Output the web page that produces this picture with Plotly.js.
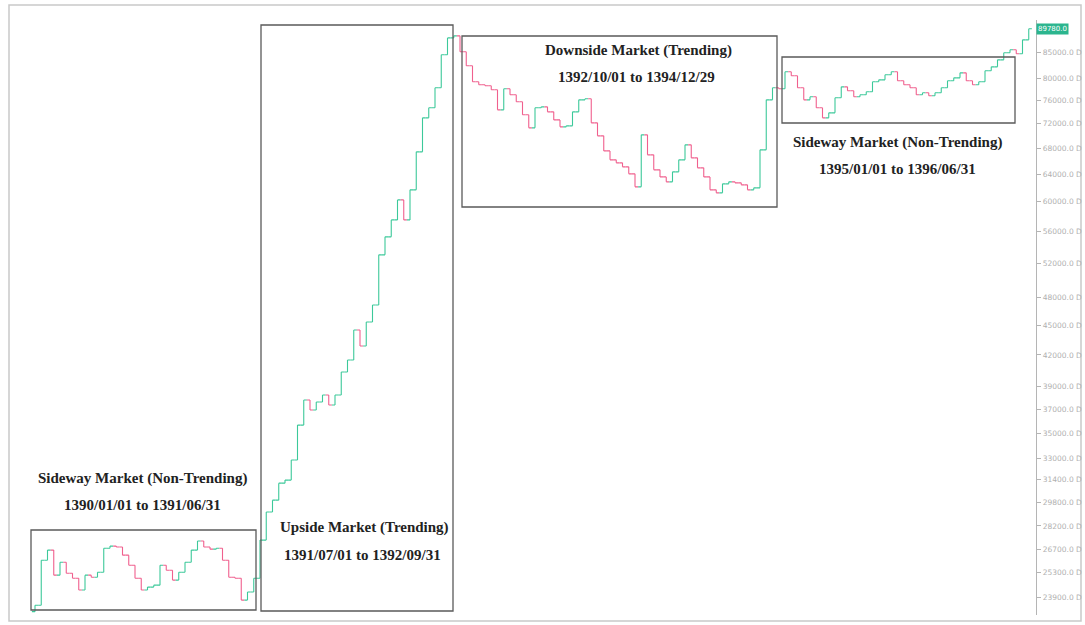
<!DOCTYPE html>
<html>
<head>
<meta charset="utf-8">
<script src="https://cdn.plot.ly/plotly-3.0.1.min.js"></script>
<style>
  html, body { margin: 0; padding: 0; background: #ffffff; }
  #chart { width: 1085px; height: 625px; }
</style>
</head>
<body>
<div id="chart"></div>
<script>
// ---- data (index values, half-month steps) ----
const firstOpen = 23100;
const closes = [
  23450, 26040, 26660, 25150, 25920, 25260, 24970, 24290, 25150, 25030,
  25320, 26780, 26910, 26850, 26350, 25740, 24970, 24290, 24460, 24570,
  25740, 25440, 24860, 25320, 25920, 26660, 27230, 26850, 26720, 26780,
  26040, 25030, 24970, 23730, 24180, 24970, 27290, 29130, 29950, 31160,
  31380, 32880, 35670, 37820, 36950, 37640, 38260, 37380, 38260, 40370,
  41510, 44520, 42890, 45360, 47190, 53030, 55300, 57530, 60270, 57530,
  61700, 67410, 72960, 74690, 78250, 84510, 87900, 88320, 85100, 82370,
  79360, 78800, 78620, 77890, 74340, 78070, 76990, 75740, 73480, 71280,
  74690, 74860, 73990, 72620, 71450, 71620, 73990, 76090, 76270, 72120,
  69970, 67560, 66160, 65700, 65090, 64040, 62130, 70130, 66940, 64640,
  63590, 62860, 64340, 66160, 68520, 66470, 64940, 63590, 61700, 61270,
  62570, 62860, 62710, 62420, 61700, 61990, 67720, 76090, 78250, 78070,
  81220, 80470, 78250, 76090, 76630, 74690, 72960, 73820, 76450, 78430,
  77710, 76630, 76990, 77530, 79360, 79720, 80660, 81220, 79540, 78800,
  78250, 76990, 77350, 76810, 77350, 78250, 79540, 80090, 81030, 79540,
  78800, 79360, 81410, 82170, 83520, 84900, 85500, 84710, 87500, 89780
];
const tickValues = [85000, 80000, 76000, 72000, 68000, 64000, 60000, 56000, 52000, 48000,
  45000, 42000, 39000, 37000, 35000, 33000, 31400, 29800, 28200, 26700, 25300, 23900];
const tickLabels = ["85000.0 D", "80000.0 D", "76000.0 D", "72000.0 D", "68000.0 D", "64000.0 D",
  "60000.0 D", "56000.0 D", "52000.0 D", "48000.0 D", "45000.0 D", "42000.0 D", "39000.0 D",
  "37000.0 D", "35000.0 D", "33000.0 D", "31400.0 D", "29800.0 D", "28200.0 D", "26700.0 D",
  "25300.0 D", "23900.0 D"];
const phaseTitles = ["Sideway Market (Non-Trending)", "Upside Market (Trending)",
  "Downside Market (Trending)", "Sideway Market (Non-Trending)"];
const phaseDates = ["1390/01/01 to 1391/06/31", "1391/07/01 to 1392/09/31",
  "1392/10/01 to 1394/12/29", "1395/01/01 to 1396/06/31"];

// ---- build OHLC table from the closes ----
const xs = closes.map((_, i) => i);
const opens = [firstOpen].concat(closes.slice(0, -1));
const highs = closes.map((c, i) => Math.max(c, opens[i]));
const lows = closes.map((c, i) => Math.min(c, opens[i]));

// ---- layout helpers (pixel -> paper) ----
const W = 1085, H = 625;
const M = { l: 12, r: 49, t: 20, b: 10 };
const PW = W - M.l - M.r, PH = H - M.t - M.b;
const px = x => (x - M.l) / PW;
const py = y => (H - M.b - y) / PH;

const boxes = [
  [31, 530, 256, 610],
  [261, 25, 453, 611],
  [462, 36, 777, 207],
  [782, 57, 1015, 123]
];
const titlePos = [[142, 478], [364, 527], [638, 50], [897, 142]];
const datePos = [[142, 505], [362, 555], [636, 77], [897, 169]];

const shapes = boxes.map(b => ({
  type: 'rect', xref: 'paper', yref: 'paper',
  x0: px(b[0]), x1: px(b[2]), y0: py(b[3]), y1: py(b[1]),
  line: { color: '#5a5a5a', width: 1.3 }, layer: 'above'
}));
// outer frame of the picture
shapes.push({
  type: 'rect', xref: 'paper', yref: 'paper',
  x0: px(9), x1: px(1081), y0: py(621), y1: py(5),
  line: { color: '#c9c9c9', width: 1.5 }, layer: 'below'
});

const annFont = { family: 'Liberation Serif, Times New Roman, serif', size: 15, color: '#222' };
const annotations = [];
phaseTitles.forEach((t, i) => {
  annotations.push({ xref: 'paper', yref: 'paper', x: px(titlePos[i][0]), y: py(titlePos[i][1]),
    text: '<b>' + t + '</b>', showarrow: false, xanchor: 'center', yanchor: 'middle', font: annFont });
  annotations.push({ xref: 'paper', yref: 'paper', x: px(datePos[i][0]), y: py(datePos[i][1]),
    text: '<b>' + phaseDates[i] + '</b>', showarrow: false, xanchor: 'center', yanchor: 'middle', font: annFont });
});
// last price label
const lastClose = closes[closes.length - 1];
annotations.push({
  xref: 'paper', yref: 'y', x: 1, y: Math.log10(lastClose),
  text: lastClose.toFixed(1), showarrow: false, xanchor: 'left', yanchor: 'middle',
  bgcolor: '#2bb58e', font: { family: 'DejaVu Sans, sans-serif', size: 7, color: '#ffffff' },
  borderpad: 1
});

const trace = {
  type: 'ohlc',
  x: xs, open: opens, high: highs, low: lows, close: closes,
  increasing: { line: { color: '#3cc99a', width: 1.1 } },
  decreasing: { line: { color: '#f0608e', width: 1.1 } },
  tickwidth: 0.5,
  hoverinfo: 'skip'
};

const layout = {
  width: W, height: H,
  margin: M,
  paper_bgcolor: '#ffffff', plot_bgcolor: '#ffffff',
  showlegend: false,
  xaxis: {
    range: [-(35 - M.l) / 6.25, -(35 - M.l) / 6.25 + PW / 6.25],
    visible: false, showgrid: false, zeroline: false,
    rangeslider: { visible: false }
  },
  yaxis: {
    type: 'log', side: 'right',
    range: [Math.log10(22920), Math.log10(91640)],
    showgrid: false, zeroline: false,
    showline: true, linecolor: '#b5b5b5', linewidth: 1.2,
    ticks: 'outside', ticklen: 4, tickcolor: '#b5b5b5',
    tickmode: 'array', tickvals: tickValues, ticktext: tickLabels,
    tickfont: { family: 'DejaVu Sans, sans-serif', size: 7.5, color: '#b0b0b0' }
  },
  shapes: shapes,
  annotations: annotations
};

Plotly.newPlot('chart', [trace], layout, { staticPlot: true, displayModeBar: false });
</script>
</body>
</html>
